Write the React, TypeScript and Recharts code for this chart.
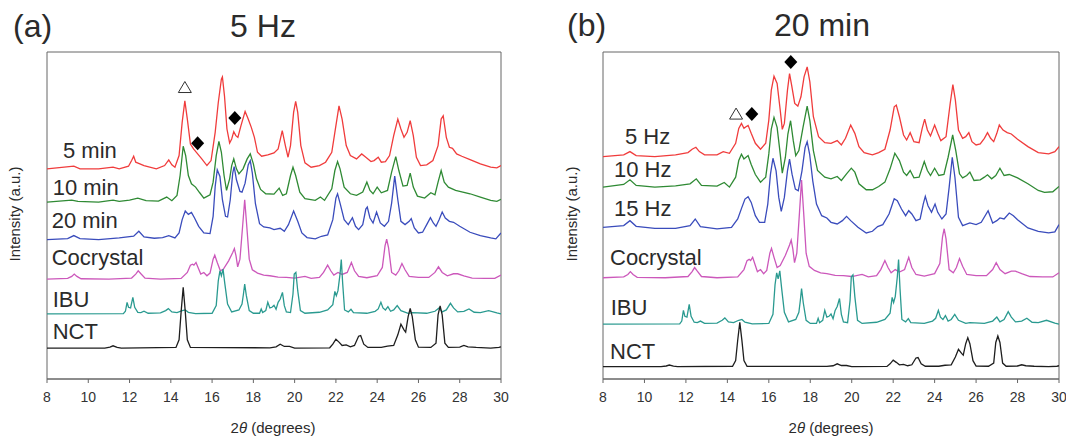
import React from 'react';
import { LineChart, Line, XAxis, YAxis, ReferenceArea, ReferenceDot } from 'recharts';

type Pt = [number, number];

const xTicks = [8, 10, 12, 14, 16, 18, 20, 22, 24, 26, 28, 30];

// (a) 5 Hz — intensities above each trace's own baseline (a.u.)
const min5: Pt[] = [[8,0],[9.3,8],[9.6,0],[10.5,0],[11.2,5],[11.5,0],[11.95,8],[12.1,25],[12.2,38],[12.3,20],[12.5,15],[12.7,10],[13.3,0],[13.7,10],[13.9,27],[14.05,12],[14.2,5],[14.4,40],[14.55,140],[14.68,205],[14.8,150],[14.95,75],[15.1,60],[15.3,45],[15.5,30],[15.75,10],[15.95,25],[16.15,110],[16.3,200],[16.45,270],[16.5,277],[16.6,220],[16.72,120],[16.85,78],[16.95,90],[17.05,112],[17.15,100],[17.25,95],[17.4,130],[17.6,173],[17.75,150],[17.9,125],[18.05,95],[18.2,50],[18.4,38],[18.7,42],[19.0,48],[19.2,60],[19.4,115],[19.55,70],[19.68,35],[19.8,70],[19.95,170],[20.05,203],[20.15,170],[20.3,70],[20.5,18],[20.8,5],[21.2,10],[21.5,20],[21.8,50],[22.0,130],[22.15,190],[22.3,150],[22.5,70],[22.7,40],[23.0,30],[23.25,45],[23.45,35],[23.7,22],[23.85,25],[24.05,35],[24.2,20],[24.4,22],[24.6,40],[24.8,100],[25.0,150],[25.15,120],[25.3,95],[25.45,110],[25.6,145],[25.75,100],[25.9,35],[26.1,10],[26.4,12],[26.7,25],[26.95,70],[27.1,150],[27.2,160],[27.35,95],[27.5,65],[27.65,62],[27.85,45],[28.1,38],[28.5,28],[29.0,15],[29.5,5],[29.8,3],[30,10]];

const min10: Pt[] = [[8,0],[9.2,6],[9.5,2],[10.5,0],[11.2,6],[11.5,2],[12.0,6],[12.4,12],[12.8,4],[13.4,3],[13.8,15],[14.05,4],[14.3,20],[14.45,80],[14.6,168],[14.72,140],[14.85,80],[15.0,55],[15.2,45],[15.4,28],[15.6,12],[15.9,22],[16.05,60],[16.2,140],[16.33,183],[16.45,150],[16.58,80],[16.7,35],[16.85,70],[16.95,110],[17.05,130],[17.18,100],[17.3,85],[17.5,100],[17.7,130],[17.85,145],[18.0,115],[18.15,70],[18.35,38],[18.6,25],[19.0,24],[19.25,42],[19.42,20],[19.6,25],[19.8,80],[19.92,105],[20.05,80],[20.25,30],[20.5,10],[21.0,5],[21.25,15],[21.45,5],[21.8,40],[21.95,95],[22.08,122],[22.2,100],[22.4,45],[22.7,25],[23.0,20],[23.3,30],[23.5,60],[23.65,35],[23.8,25],[24.0,45],[24.2,28],[24.5,35],[24.7,90],[24.9,137],[25.05,95],[25.25,48],[25.45,50],[25.6,87],[25.75,45],[25.95,18],[26.3,12],[26.6,28],[26.8,22],[26.95,60],[27.1,95],[27.25,60],[27.45,45],[27.8,35],[28.5,25],[29.0,15],[29.5,5],[29.8,2],[30,8]];

const min20: Pt[] = [[8,0],[9.0,3],[9.3,12],[9.6,3],[10.5,0],[11.5,5],[12.2,10],[12.45,25],[12.7,8],[13.2,4],[13.6,6],[13.9,12],[14.2,5],[14.4,20],[14.55,60],[14.7,86],[14.85,76],[15.0,82],[15.15,65],[15.35,40],[15.6,20],[15.9,18],[16.05,70],[16.15,160],[16.25,210],[16.38,190],[16.5,120],[16.65,70],[16.75,68],[16.88,120],[17.0,200],[17.07,220],[17.18,180],[17.35,145],[17.45,143],[17.6,170],[17.75,225],[17.85,238],[17.95,200],[18.1,108],[18.3,48],[18.5,38],[18.8,35],[19.0,30],[19.3,34],[19.5,25],[19.7,45],[19.95,86],[20.15,55],[20.35,20],[20.6,6],[21.0,2],[21.3,10],[21.6,14],[21.85,60],[22.0,125],[22.08,138],[22.2,110],[22.4,60],[22.6,45],[22.8,66],[22.95,40],[23.1,30],[23.3,45],[23.45,92],[23.52,98],[23.65,65],[23.8,50],[23.97,83],[24.15,50],[24.35,40],[24.55,55],[24.7,110],[24.85,191],[25.0,120],[25.15,55],[25.35,45],[25.55,55],[25.65,63],[25.8,35],[26.0,20],[26.2,22],[26.4,45],[26.58,66],[26.72,50],[26.85,40],[27.0,60],[27.15,83],[27.3,65],[27.5,55],[27.7,52],[28.0,40],[28.5,22],[29.0,12],[29.5,5],[29.75,2],[30,20]];

// reference patterns (shared by both panels)
const cocrystal: Pt[] = [[8,0],[9.0,2],[9.2,8],[9.32,15],[9.45,8],[9.65,1],[11.0,0],[12.1,3],[12.3,15],[12.42,25],[12.55,16],[12.75,3],[13.5,0],[14.5,2],[14.8,20],[14.95,42],[15.05,45],[15.12,42],[15.22,50],[15.35,30],[15.45,15],[15.6,20],[15.75,10],[15.9,18],[16.05,60],[16.13,72],[16.25,50],[16.4,25],[16.55,30],[16.8,55],[17.0,80],[17.08,92],[17.16,70],[17.24,37],[17.35,60],[17.48,160],[17.58,239],[17.68,160],[17.8,60],[17.95,28],[18.2,18],[18.5,12],[18.8,10],[19.2,6],[19.6,5],[20.0,3],[20.5,8],[20.8,2],[21.2,5],[21.4,20],[21.6,42],[21.75,25],[21.9,12],[22.1,20],[22.3,14],[22.55,20],[22.75,50],[22.9,25],[23.1,8],[23.5,4],[24.0,10],[24.25,35],[24.38,100],[24.46,120],[24.55,95],[24.7,20],[24.9,12],[25.05,25],[25.2,47],[25.35,28],[25.55,8],[26.0,5],[26.5,5],[26.8,20],[26.97,37],[27.15,20],[27.4,10],[27.7,16],[27.9,16],[28.2,10],[28.6,3],[29.2,2],[29.7,2],[30,12]];

const ibu: Pt[] = [[8,0],[11.7,1],[11.8,8],[11.88,35],[11.95,20],[12.05,18],[12.16,50],[12.25,20],[12.4,5],[12.55,4],[12.7,8],[12.9,2],[13.5,3],[13.75,10],[13.88,16],[14.05,6],[14.3,4],[14.55,10],[14.7,12],[14.85,5],[15.2,1],[16.0,2],[16.2,25],[16.3,100],[16.38,130],[16.45,115],[16.53,135],[16.62,90],[16.75,30],[16.95,6],[17.3,12],[17.45,30],[17.52,60],[17.58,90],[17.66,55],[17.8,10],[18.0,2],[18.3,2],[18.38,15],[18.45,4],[18.6,10],[18.7,35],[18.8,18],[18.9,20],[19.0,26],[19.1,14],[19.2,35],[19.3,45],[19.41,65],[19.5,25],[19.6,6],[19.8,4],[19.92,60],[19.98,120],[20.06,125],[20.15,70],[20.28,10],[20.5,2],[21.2,5],[21.6,12],[21.85,28],[21.95,68],[22.02,55],[22.1,70],[22.2,120],[22.26,164],[22.33,90],[22.42,12],[22.6,6],[22.73,14],[22.85,4],[23.5,2],[23.9,8],[24.05,15],[24.18,35],[24.28,18],[24.4,12],[24.52,22],[24.65,8],[24.8,12],[24.97,25],[25.15,10],[25.5,2],[25.7,4],[26.4,2],[26.8,8],[27.0,18],[27.15,6],[27.35,12],[27.55,32],[27.7,18],[27.9,6],[28.2,8],[28.45,15],[28.7,5],[29.0,4],[29.4,10],[29.8,3],[30,0]];

const nct: Pt[] = [[8,0],[10.8,0],[11.05,3],[11.2,7],[11.4,2],[11.6,0],[14.25,2],[14.4,25],[14.5,110],[14.6,183],[14.7,110],[14.8,25],[14.95,2],[18.8,1],[19.1,4],[19.3,12],[19.5,5],[19.75,5],[20.0,0],[21.7,1],[21.85,12],[22.0,27],[22.15,18],[22.3,8],[22.5,10],[22.7,4],[22.9,8],[23.1,36],[23.2,38],[23.35,12],[23.55,2],[24.2,2],[24.5,6],[24.8,8],[25.0,40],[25.15,72],[25.3,55],[25.38,48],[25.5,95],[25.6,120],[25.7,95],[25.85,25],[26.0,3],[26.6,2],[26.85,15],[26.95,100],[27.05,127],[27.15,100],[27.28,15],[27.45,2],[28.0,3],[28.2,8],[28.4,4],[28.8,2],[29.5,0],[29.9,2],[30,4]];

// (b) 20 min
const hz5: Pt[] = [[8,0],[9.0,5],[9.3,15],[9.6,3],[10.5,0],[11.5,5],[12.1,12],[12.3,22],[12.48,28],[12.65,15],[12.9,5],[13.5,5],[13.8,15],[14.1,10],[14.4,40],[14.55,85],[14.68,100],[14.8,85],[14.9,90],[15.0,94],[15.15,70],[15.35,40],[15.6,22],[15.85,40],[16.0,110],[16.12,200],[16.25,242],[16.4,220],[16.55,140],[16.65,82],[16.75,100],[16.9,200],[17.0,250],[17.1,215],[17.25,160],[17.4,152],[17.55,180],[17.7,240],[17.85,270],[17.98,225],[18.15,120],[18.4,60],[18.7,42],[19.0,40],[19.3,48],[19.5,35],[19.7,55],[19.95,95],[20.15,70],[20.35,30],[20.6,12],[21.0,5],[21.3,12],[21.6,22],[21.85,80],[22.05,150],[22.15,155],[22.3,120],[22.5,65],[22.65,50],[22.82,72],[23.0,45],[23.25,42],[23.4,85],[23.52,113],[23.65,80],[23.8,62],[24.0,95],[24.15,70],[24.3,48],[24.55,60],[24.75,160],[24.88,217],[25.0,170],[25.15,80],[25.35,55],[25.5,60],[25.65,72],[25.8,45],[26.0,35],[26.2,38],[26.4,55],[26.55,72],[26.7,55],[26.85,45],[27.0,70],[27.12,95],[27.3,80],[27.5,72],[27.7,68],[28.0,52],[28.5,30],[29.0,12],[29.5,8],[29.8,15],[30,30]];

const hz10: Pt[] = [[8,0],[9.0,8],[9.3,22],[9.6,5],[10.5,0],[11.5,4],[12.2,10],[12.5,25],[12.75,5],[13.5,3],[13.85,14],[14.1,0],[14.4,30],[14.55,80],[14.68,99],[14.8,85],[14.9,90],[15.0,95],[15.15,68],[15.35,38],[15.6,15],[15.85,30],[16.0,100],[16.12,175],[16.25,210],[16.4,180],[16.55,100],[16.65,42],[16.8,90],[16.92,160],[17.05,200],[17.18,140],[17.3,95],[17.45,110],[17.65,180],[17.85,244],[17.98,200],[18.15,110],[18.35,50],[18.7,30],[19.0,25],[19.3,32],[19.5,20],[19.75,40],[19.98,57],[20.15,45],[20.35,10],[20.7,-8],[21.0,-8],[21.3,2],[21.6,15],[21.85,55],[22.08,102],[22.3,80],[22.5,45],[22.65,35],[22.82,50],[23.0,28],[23.25,30],[23.5,77],[23.65,50],[23.8,35],[24.0,57],[24.2,35],[24.45,38],[24.65,90],[24.87,157],[25.02,110],[25.2,40],[25.35,28],[25.55,35],[25.7,45],[25.9,20],[26.2,22],[26.4,30],[26.55,37],[26.75,25],[26.95,35],[27.15,57],[27.35,35],[27.6,38],[28.0,28],[28.5,10],[29.0,-10],[29.3,-16],[29.7,-14],[30,2]];

const hz15: Pt[] = [[8,0],[9.0,5],[9.3,20],[9.6,3],[10.5,-3],[11.5,-3],[12.2,5],[12.45,25],[12.7,2],[13.5,-5],[14.2,0],[14.5,25],[14.7,60],[14.85,85],[15.0,92],[15.15,75],[15.35,35],[15.55,15],[15.8,15],[15.95,70],[16.08,160],[16.2,208],[16.35,170],[16.48,90],[16.6,48],[16.75,90],[16.9,170],[17.0,205],[17.12,160],[17.28,115],[17.42,110],[17.6,170],[17.75,240],[17.85,258],[17.97,220],[18.12,140],[18.3,70],[18.55,35],[18.8,28],[19.0,15],[19.3,10],[19.55,20],[19.75,33],[19.95,20],[20.3,0],[20.7,-17],[21.0,-12],[21.25,2],[21.5,8],[21.8,40],[22.05,86],[22.2,80],[22.4,55],[22.6,35],[22.75,50],[22.9,40],[23.1,20],[23.3,25],[23.45,70],[23.55,93],[23.68,65],[23.85,45],[24.02,70],[24.15,45],[24.35,25],[24.55,40],[24.7,120],[24.85,211],[24.98,150],[25.15,30],[25.35,5],[25.7,13],[26.0,8],[26.25,15],[26.58,50],[26.8,13],[27.0,20],[27.15,28],[27.35,25],[27.6,43],[27.8,35],[28.0,23],[28.5,-2],[29.0,-12],[29.5,-17],[29.8,-14],[30,8]];

const namesA = ['5 min', '10 min', '20 min', 'Cocrystal', 'IBU', 'NCT'];
const namesB = ['5 Hz', '10 Hz', '15 Hz', 'Cocrystal', 'IBU', 'NCT'];
const seriesA = [min5, min10, min20, cocrystal, ibu, nct];
const seriesB = [hz5, hz10, hz15, cocrystal, ibu, nct];
const offsetsA = [633, 533, 420, 301, 196, 93];
const offsetsB = [670, 578, 457, 305, 165, 37];
const scalesA = [1, 1, 1, 1, 1, 1];
const scalesB = [1, 1, 1, 1.23, 1.19, 0.73];
const colors = ['#f03c3c', '#2f8a34', '#3a4cbc', '#cc58bb', '#2a9a90', '#1e1e1e'];

// △ = IBU-NCT form, ◆ = cocrystal peaks
const marksA = [{ x: 14.68, y: 878, kind: 'tri' }, { x: 15.3, y: 710, kind: 'dia' }, { x: 17.1, y: 786, kind: 'dia' }];
const marksB = [{ x: 14.42, y: 798, kind: 'tri' }, { x: 15.18, y: 798, kind: 'dia' }, { x: 17.06, y: 955, kind: 'dia' }];

const FONT = '"Liberation Sans", Arial, Helvetica, sans-serif';

const Marker = (kind: string) => (p: any) => {
    const { cx, cy } = p;
    if (kind === 'tri') {
        return <polygon points={`${cx},${cy - 6} ${cx - 6.5},${cy + 5} ${cx + 6.5},${cy + 5}`} fill="#fff" stroke="#333" strokeWidth={1} />;
    }
    return <polygon points={`${cx},${cy - 7} ${cx + 6.5},${cy} ${cx},${cy + 7} ${cx - 6.5},${cy}`} fill="#000" />;
};

interface PanelProps {
    series: Pt[][];
    offsets: number[];
    scales: number[];
    marks: { x: number; y: number; kind: string }[];
    left: number;
    width: number;
    marginRight: number;
}

const Panel: React.FC<PanelProps> = ({ series, offsets, scales, marks, left, width, marginRight }) => {
    const lines = series.map((s, i) => s.map(([x, v]) => ({ x, y: offsets[i] + v * scales[i] })));
    return (
        <div style={{ position: 'absolute', left, top: 0 }}>
            <LineChart width={width} height={439} margin={{ top: 52, right: marginRight, left: 47, bottom: 30 }}>
                <XAxis
                    type="number"
                    dataKey="x"
                    domain={[8, 30]}
                    ticks={xTicks}
                    allowDataOverflow
                    height={30}
                    tickSize={4}
                    tickMargin={9}
                    stroke="#666"
                    tick={{ fontSize: 14, fill: '#333', fontFamily: FONT }}
                />
                <YAxis type="number" domain={[0, 985]} hide allowDataOverflow />
                <ReferenceArea x1={8} x2={30} y1={0} y2={985} fill="none" stroke="#666" strokeWidth={1} />
                {lines.map((d, i) => (
                    <Line
                        key={i}
                        data={d}
                        dataKey="y"
                        type="linear"
                        stroke={colors[i]}
                        strokeWidth={1.3}
                        dot={false}
                        isAnimationActive={false}
                    />
                ))}
                {marks.map((m, i) => (
                    <ReferenceDot key={i} x={m.x} y={m.y} r={6} shape={Marker(m.kind)} />
                ))}
            </LineChart>
        </div>
    );
};

const App: React.FC = () => {
    const txt = { fontFamily: FONT, fill: '#2b2b2b' };
    const posA: Pt[] = [[63, 158], [52.7, 195], [51.7, 228], [51.7, 265], [52.7, 306.5], [52.7, 339.3]];
    const posB: Pt[] = [[625, 144], [614, 176.7], [614, 215.7], [610, 265], [610.7, 315], [610, 359.3]];
    return (
        <div style={{ position: 'absolute', left: 0, top: 0, width: 1066, height: 439, background: '#fff', overflow: 'hidden' }}>
            <Panel series={seriesA} offsets={offsetsA} scales={scalesA} marks={marksA} left={0} width={530} marginRight={29} />
            <Panel series={seriesB} offsets={offsetsB} scales={scalesB} marks={marksB} left={556} width={510} marginRight={7} />
            <svg width={1066} height={439} style={{ position: 'absolute', left: 0, top: 0, pointerEvents: 'none' }}>
                <text x={13} y={37} fontSize={32} {...txt}>(a)</text>
                <text x={263} y={37} fontSize={32} textAnchor="middle" {...txt}>5 Hz</text>
                <text x={567} y={36} fontSize={32} {...txt}>(b)</text>
                <text x={822} y={36} fontSize={32} textAnchor="middle" {...txt}>20 min</text>
                {namesA.map((n, i) => (
                    <text key={'a' + i} x={posA[i][0]} y={posA[i][1]} fontSize={22} {...txt}>{n}</text>
                ))}
                {namesB.map((n, i) => (
                    <text key={'b' + i} x={posB[i][0]} y={posB[i][1]} fontSize={22} {...txt}>{n}</text>
                ))}
                <text transform="translate(20,214) rotate(-90)" fontSize={15} textAnchor="middle" {...txt}>Intensity (a.u.)</text>
                <text transform="translate(577,214) rotate(-90)" fontSize={15} textAnchor="middle" {...txt}>Intensity (a.u.)</text>
                <text x={273} y={433} fontSize={15} textAnchor="middle" {...txt}>2<tspan fontStyle="italic">θ</tspan> (degrees)</text>
                <text x={831} y={433} fontSize={15} textAnchor="middle" {...txt}>2<tspan fontStyle="italic">θ</tspan> (degrees)</text>
            </svg>
        </div>
    );
};

export default App;
